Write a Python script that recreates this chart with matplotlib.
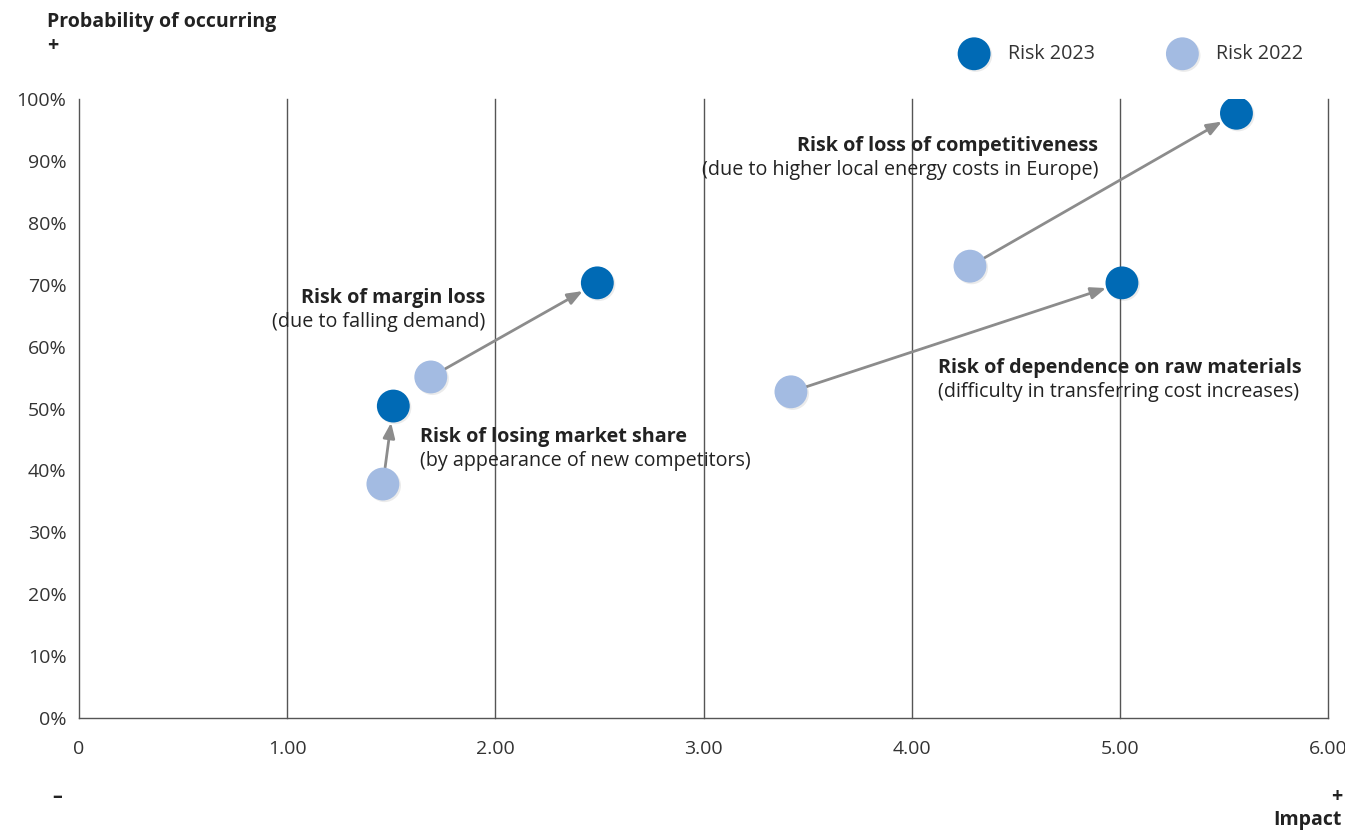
import matplotlib.pyplot as plt
import matplotlib.patheffects as pe

plt.rcParams['font.family'] = ['Open Sans', 'DejaVu Sans']

# Risk positions: impact (x) and probability in % (y)
risk_names = ["Risk of loss of competitiveness", "Risk of dependence on raw materials",
              "Risk of margin loss", "Risk of losing market share"]
risk_notes = ["(due to higher local energy costs in Europe)", "(difficulty in transferring cost increases)",
              "(due to falling demand)", "(by appearance of new competitors)"]
impact_2022 = [4.28, 3.42, 1.69, 1.46]
prob_2022 = [73.0, 52.7, 55.1, 37.8]
impact_2023 = [5.56, 5.01, 2.49, 1.51]
prob_2023 = [97.7, 70.3, 70.3, 50.4]

x_ticks = [0, 1, 2, 3, 4, 5, 6]
x_tick_labels = ["0", "1.00", "2.00", "3.00", "4.00", "5.00", "6.00"]
y_ticks = list(range(0, 101, 10))

dark_blue = '#006AB5'
light_blue = '#A3BBE2'
arrow_grey = '#8C8C8C'
text_col = '#222222'

fig = plt.figure(figsize=(13.45, 8.30), dpi=100)
ax = fig.add_axes([0.0587, 0.1349, 0.9287, 0.7458])
ax.set_xlim(0, 6)
ax.set_ylim(0, 100)

# vertical grid lines at each impact step
for xv in x_ticks[1:]:
    ax.axvline(xv, color='#555555', linewidth=1.0, zorder=1, clip_on=False)
for side in ['top', 'right']:
    ax.spines[side].set_visible(False)
for side in ['left', 'bottom']:
    ax.spines[side].set_color('#555555')
    ax.spines[side].set_linewidth(1.0)

ax.set_xticks(x_ticks)
ax.set_xticklabels(x_tick_labels)
ax.set_yticks(y_ticks)
ax.set_yticklabels([f"{v}%" for v in y_ticks])
ax.tick_params(length=0, labelsize=14, colors='#333333')
ax.tick_params(axis='x', pad=16)
ax.tick_params(axis='y', pad=9)

shadow = [pe.SimplePatchShadow(offset=(1.2, -1.2), shadow_rgbFace='#000000', alpha=0.08), pe.Normal()]

# arrows from 2022 to 2023 position
for x0, y0, x1, y1 in zip(impact_2022, prob_2022, impact_2023, prob_2023):
    ax.annotate('', xy=(x1, y1), xytext=(x0, y0),
                arrowprops=dict(arrowstyle='-|>,head_length=0.9,head_width=0.35', color=arrow_grey,
                                lw=2.0, shrinkA=12, shrinkB=12), zorder=2)

ax.scatter(impact_2022, prob_2022, s=560, color=light_blue, zorder=3, label='Risk 2022',
           path_effects=shadow, linewidths=0)
ax.scatter(impact_2023, prob_2023, s=560, color=dark_blue, zorder=4, label='Risk 2023',
           path_effects=shadow, linewidths=0)

# risk labels: (x, y of first line, alignment)
label_pos = [(4.895, 92.4, 'right'), (4.126, 56.5, 'left'), (1.95, 67.9, 'right'), (1.638, 45.4, 'left')]
for name, note, (lx, ly, ha) in zip(risk_names, risk_notes, label_pos):
    ax.text(lx, ly, name, ha=ha, va='center', fontsize=14.2, fontweight='bold', color=text_col, zorder=5)
    ax.text(lx, ly - 3.9, note, ha=ha, va='center', fontsize=14.2, color=text_col, zorder=5)

# legend at the top right
handles, labels = ax.get_legend_handles_labels()
fig.legend(handles[::-1], labels[::-1], loc='center right', bbox_to_anchor=(0.982, 0.935), ncol=2,
           frameon=False, fontsize=14.2, handletextpad=0.7, columnspacing=3.45, markerscale=1.0,
           labelcolor='#333333')

# axis captions
fig.text(47 / 1345, 1 - 22 / 830, "Probability of occurring", fontsize=14, fontweight='bold',
         color=text_col, ha='left', va='center')
fig.text(47 / 1345, 1 - 46 / 830, "+", fontsize=14, fontweight='bold', color=text_col, ha='left', va='center')
fig.text(62 / 1345, 1 - 797 / 830, "–", fontsize=14, fontweight='bold', color=text_col, ha='right', va='center')
fig.text(1342 / 1345, 1 - 797 / 830, "+", fontsize=14, fontweight='bold', color=text_col, ha='right', va='center')
fig.text(1342 / 1345, 1 - 820 / 830, "Impact", fontsize=14, fontweight='bold', color=text_col, ha='right', va='center')

fig.savefig('out.png', dpi=100)
